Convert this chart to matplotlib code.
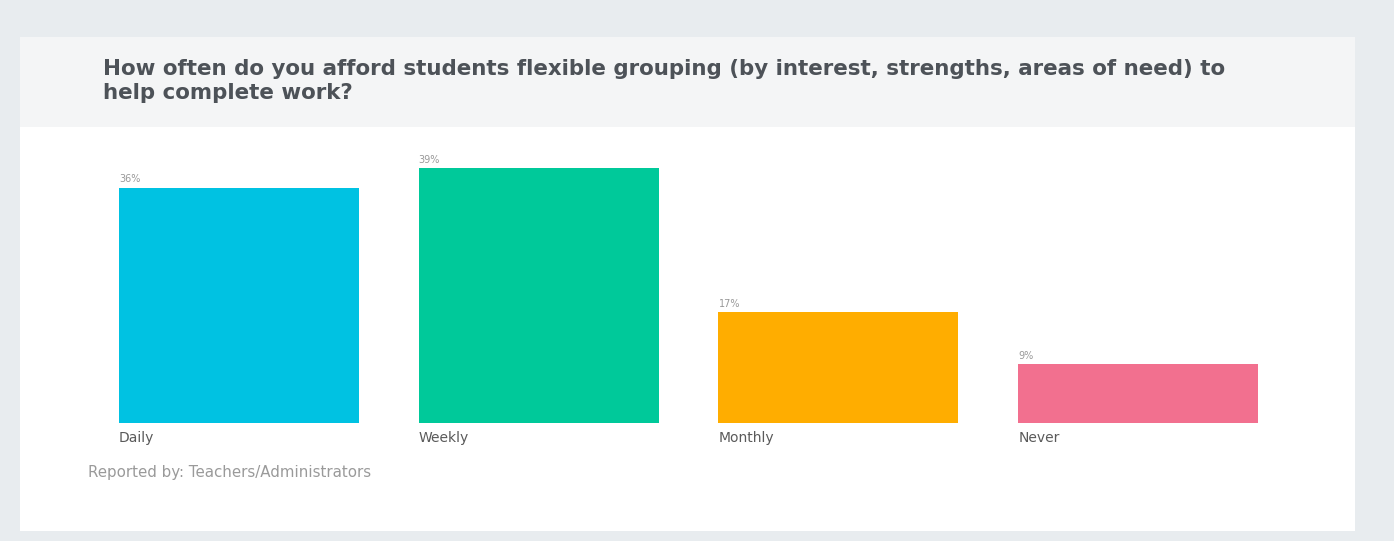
import matplotlib.pyplot as plt
from matplotlib.patches import Rectangle

categories = ["Daily", "Weekly", "Monthly", "Never"]
values = [36, 39, 17, 9]
colors = ["#00c2e2", "#00c99a", "#ffad00", "#f2708f"]

W, H = 1394, 541
fig = plt.figure(figsize=(W / 100, H / 100), dpi=100)
fig.patch.set_facecolor("#e8ecef")

def px(x0, y0, x1, y1):
    # pixel box (top-left origin) -> figure fraction
    return (x0 / W, 1 - y1 / H, (x1 - x0) / W, (y1 - y0) / H)

# card and header band
x, y, w, h = px(20, 37, 1355, 531)
fig.patches.append(Rectangle((x, y), w, h, transform=fig.transFigure,
                             facecolor="white", edgecolor="none", zorder=-2))
x, y, w, h = px(20, 37, 1355, 127)
fig.patches.append(Rectangle((x, y), w, h, transform=fig.transFigure,
                             facecolor="#f4f5f6", edgecolor="none", zorder=-1))

fig.text(103 / W, 1 - 69 / H,
         "How often do you afford students flexible grouping (by interest, strengths, areas of need) to",
         fontsize=15.4, fontweight="bold", color="#4d5258", va="center", ha="left")
fig.text(103 / W, 1 - 93 / H, "help complete work?",
         fontsize=15.4, fontweight="bold", color="#4d5258", va="center", ha="left")

ax = fig.add_axes(px(119, 168, 1258, 423))
ax.set_zorder(2)
xs = [i for i in range(len(categories))]
ax.bar(xs, values, width=0.8, align="edge", color=colors, edgecolor="none")
ax.set_xlim(0, 3.8)
ax.set_ylim(0, max(values))
ax.axis("off")

for xi, v, c in zip(xs, values, categories):
    ax.text(xi, v + 0.5, f"{v}%", fontsize=7, color="#999999",
            ha="left", va="bottom", clip_on=False)
    ax.text(xi, -1.2, c, fontsize=10, color="#5a5a5a",
            ha="left", va="top", clip_on=False)

fig.text(88 / W, 1 - 472 / H, "Reported by: Teachers/Administrators",
         fontsize=10.8, color="#9a9a9a", va="center", ha="left")

fig.savefig("out.png", dpi=100, facecolor=fig.get_facecolor())
